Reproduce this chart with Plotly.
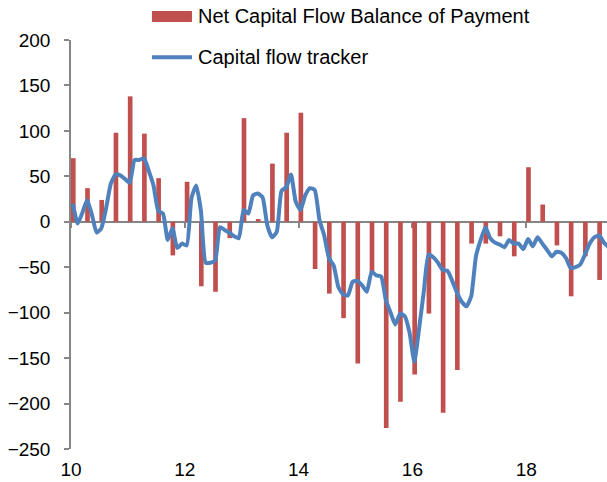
import plotly.graph_objects as go

# ── Data ────────────────────────────────────────────────────────────────────
# Quarterly net capital flow (balance of payments), 2010Q1 .. 2019Q2
bop_quarterly = [
    70, 37, 24, 98, 138, 97, 48, -37, 44, -71, -77, -18, 114, 3, 64, 98,
    120, -52, -79, -106, -156, -57, -227, -198, -168, -101, -210, -163,
    -24, -24, -16, -38, 60, 19, -26, -82, -38, -64,
]

# Monthly capital flow tracker, Jan 2010 onwards
tracker_monthly = [
    20, -2, 10, 24, 8, -12, -7, 15, 42, 52, 51, 47, 43, 68, 68, 70,
    56, 40, 12, 9, -20, -7, -29, -24, -26, 26, 40, 12, -45, -45, -43, -6,
    -9, -12, -16, -18, 13, 9, 29, 31, 27, -4, -17, -11, 34, 38, 52, 22,
    13, 29, 37, 35, 2, -15, -40, -48, -72, -80, -81, -66, -65, -70, -77, -55,
    -59, -60, -86, -100, -113, -101, -104, -122, -154, -118, -77, -36, -39, -45, -53, -54,
    -65, -78, -88, -93, -82, -38, -20, -6, -18, -23, -25, -28, -20, -24, -24, -30,
    -19, -27, -17, -24, -31, -38, -33, -34, -40, -51, -50, -47, -36, -24, -17, -15,
    -23, -28,
]

year_ticks = [10, 12, 14, 16, 18]
START = 10  # first year on the axis (2010)

bar_x = [START + q / 4 + 0.04 for q in range(len(bop_quarterly))]
line_x = [START + (m + 0.4) / 12 for m in range(len(tracker_monthly))]

X_RANGE = [10, 19.42]
Y_RANGE = [-250, 200]
AXIS_GREY = "#868686"
FONT = "Liberation Sans, Arial, sans-serif"
RED = "#C0504D"
BLUE = "#4F81BD"

fig = go.Figure()
fig.add_trace(go.Bar(
    x=bar_x, y=bop_quarterly, width=0.082,
    marker=dict(color=RED, line=dict(width=0)),
    name="Net Capital Flow Balance of Payment", showlegend=False,
))
fig.add_trace(go.Scatter(
    x=line_x, y=tracker_monthly, mode="lines",
    line=dict(color=BLUE, width=4, shape="spline", smoothing=0.5),
    name="Capital flow tracker", showlegend=False,
))
# invisible helper so the bottom label axis gets its own subplot
fig.add_trace(go.Scatter(x=[None], y=[None], xaxis="x2", showlegend=False, hoverinfo="skip"))

zero_pos = (0 - Y_RANGE[0]) / (Y_RANGE[1] - Y_RANGE[0])

fig.update_layout(
    width=607, height=482,
    margin=dict(l=71, r=0, t=40, b=33),
    plot_bgcolor="white", paper_bgcolor="white",
    font=dict(family=FONT, size=19, color="black"),
    showlegend=False,
    xaxis=dict(
        range=X_RANGE, anchor="free", position=zero_pos, automargin=False,
        showline=True, linecolor=AXIS_GREY, linewidth=1.5,
        ticks="outside", ticklen=5, tickcolor=AXIS_GREY, tickwidth=1.5,
        tickvals=year_ticks, showticklabels=False,
        showgrid=False, zeroline=False, layer="below traces",
    ),
    xaxis2=dict(
        range=X_RANGE, overlaying="x", anchor="y", side="bottom", automargin=False,
        tickvals=year_ticks, ticktext=[str(t) for t in year_ticks],
        showline=False, ticks="", ticklen=0, showgrid=False, zeroline=False,
        ticklabelstandoff=7, tickfont=dict(size=19, color="black"),
    ),
    yaxis=dict(
        range=Y_RANGE, tickvals=list(range(-250, 201, 50)), automargin=False,
        showline=True, linecolor=AXIS_GREY, linewidth=1.5,
        ticks="outside", ticklen=5, tickcolor=AXIS_GREY, tickwidth=1.5,
        showgrid=False, zeroline=False, layer="below traces",
        ticklabelstandoff=10, tickfont=dict(size=19, color="black"),
    ),
)

# ── Legend drawn by hand (wide swatches like the original) ──────────────────
fig.add_shape(type="rect", xref="paper", yref="paper",
              x0=0.151, x1=0.2257, y0=1.044, y1=1.0709,
              fillcolor=RED, line=dict(width=0))
fig.add_shape(type="line", xref="paper", yref="paper",
              x0=0.151, x1=0.2257, y0=0.958, y1=0.958,
              line=dict(color=BLUE, width=4))
fig.add_annotation(xref="paper", yref="paper", x=0.2332, y=1.0587,
                   text="Net Capital Flow Balance of Payment", showarrow=False,
                   xanchor="left", yanchor="middle", font=dict(size=20))
fig.add_annotation(xref="paper", yref="paper", x=0.2332, y=0.958,
                   text="Capital flow tracker", showarrow=False,
                   xanchor="left", yanchor="middle", font=dict(size=20))

# page body has a default 8px margin; drop it so the chart sits at the corner
fig.write_html("out.html", config={"displayModeBar": False},
               post_script="document.body.style.margin='0';")
